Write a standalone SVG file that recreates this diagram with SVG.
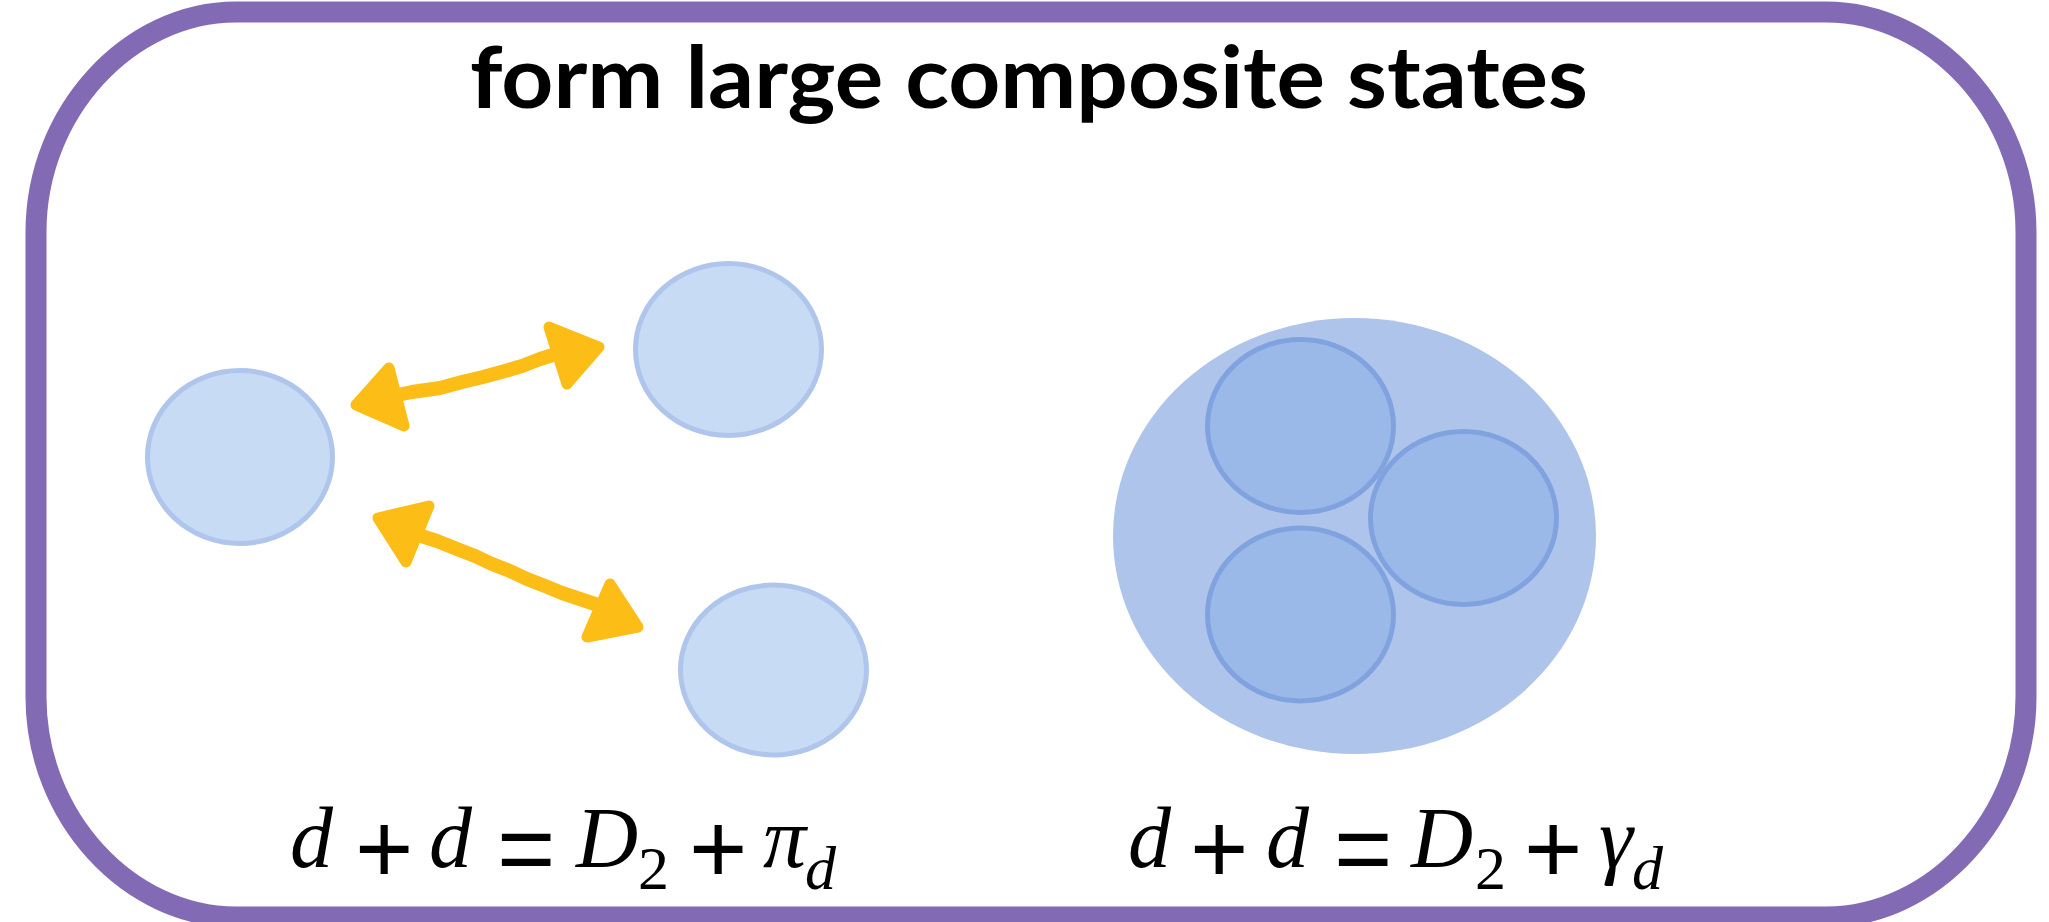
<svg xmlns="http://www.w3.org/2000/svg" width="2049" height="922" viewBox="0 0 2049 922">
  <style>
    .frame { fill: none; stroke: #836AB5; stroke-width: 21; }
    .title { font-family: Lato, "Noto Sans", sans-serif; font-weight: 700; font-size: 86px; fill: #000; }
    .small { fill: #C7DBF5; stroke: #AFC5EB; stroke-width: 5; }
    .big { fill: #AFC4EA; }
    .inner { fill: #9BB9E8; stroke: #80A3E0; stroke-width: 5; }
    .eq { font-family: "Liberation Serif", "Times New Roman", serif; font-size: 86px; fill: #000; }
    .op { font-family: "Liberation Sans", Arial, sans-serif; font-size: 100px; fill: #000; }
    .it { font-style: italic; }
    .sub { font-size: 62px; }
    .arrowline { fill: none; stroke: #FDBD17; stroke-width: 14; stroke-linecap: round; stroke-linejoin: round; }
    .arrowhead { fill: #FDBD17; stroke: #FDBD17; stroke-width: 11; stroke-linejoin: round; }
  </style>

  <g id="frame">
    <path class="frame" d="M36,232 C36,112 129,12 236,12 L1826,12 C1933,12 2026,112 2026,232 L2026,697 C2026,817 1933,917 1826,917 L236,917 C129,917 36,817 36,697 Z"/>
  </g>

  <g id="title">
    <text class="title" x="470" y="108" textLength="1118" lengthAdjust="spacingAndGlyphs">form large composite states</text>
  </g>

  <g id="node-d1">
    <ellipse class="small" cx="240" cy="457" rx="92.5" ry="86.5"/>
  </g>
  <g id="node-d2">
    <ellipse class="small" cx="728.5" cy="349.5" rx="93" ry="86"/>
  </g>
  <g id="node-d3">
    <ellipse class="small" cx="773.5" cy="670" rx="93" ry="85"/>
  </g>

  <g id="node-composite">
    <ellipse class="big" cx="1354.5" cy="536" rx="241.5" ry="218"/>
    <ellipse class="inner" cx="1300.5" cy="426" rx="93" ry="86.5"/>
    <ellipse class="inner" cx="1463.5" cy="518" rx="93" ry="86.5"/>
    <ellipse class="inner" cx="1300.5" cy="614.5" rx="93" ry="86.5"/>
  </g>

  <g id="connectors">
    <g id="arrow-d1-d2">
      <polyline class="arrowline" points="388,397 412,392 440,388 462,382 483,377 505,371 522,366 540,359 556,354"/>
      <polygon class="arrowhead" points="356,405 389,368 404,426"/>
      <polygon class="arrowhead" points="599,347 549,327 567,384"/>
    </g>
    <g id="arrow-d1-d3">
      <polyline class="arrowline" points="412,533 437,541 457,549 475,556 492,564 510,571 527,579 545,586 562,593 580,599 598,605"/>
      <polygon class="arrowhead" points="378,518 429,506 406,562"/>
      <polygon class="arrowhead" points="638,627 610,584 587,637"/>
    </g>
  </g>

  <g id="eq-left">
    <text class="eq"><tspan class="it" x="290" y="867">d</tspan><tspan class="it" x="429" y="867">d</tspan><tspan class="it" x="576" y="867">D</tspan><tspan class="sub" x="638" y="889">2</tspan><tspan class="it" x="763" y="867">π</tspan><tspan class="it sub" x="805" y="889">d</tspan></text>
    <text class="op" y="883"><tspan x="355">+</tspan><tspan x="497">=</tspan><tspan x="689">+</tspan></text>
  </g>

  <g id="eq-right">
    <text class="eq"><tspan class="it" x="1128" y="867">d</tspan><tspan class="it" x="1266" y="867">d</tspan><tspan class="it" x="1411" y="867">D</tspan><tspan class="sub" x="1475" y="889">2</tspan><tspan class="it" x="1599" y="867">γ</tspan><tspan class="it sub" x="1632" y="889">d</tspan></text>
    <text class="op" y="883"><tspan x="1190">+</tspan><tspan x="1334">=</tspan><tspan x="1524">+</tspan></text>
  </g>
</svg>
